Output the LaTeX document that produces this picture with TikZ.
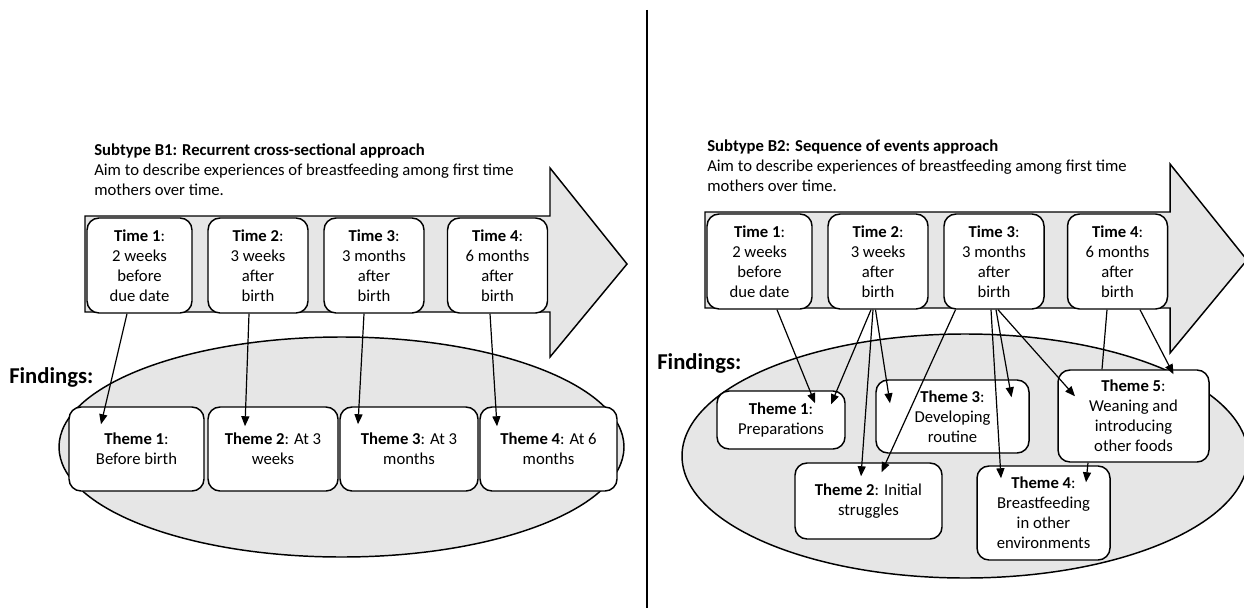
\documentclass[tikz,border=0pt]{standalone}
\usepackage{fontspec}
\setmainfont{Carlito}
\usetikzlibrary{arrows.meta,calc}

\tikzset{
  timebox/.style={draw, line width=1.1pt, rounded corners=9pt, fill=white, align=center, inner sep=0pt, minimum width=75pt, minimum height=71.25pt, font=\fontsize{12.5}{15}\selectfont},
  themebox/.style={draw, line width=1.1pt, rounded corners=9pt, fill=white, align=center, inner sep=0pt, font=\fontsize{12.5}{15}\selectfont},
  bigarrow/.style={draw, line width=1.1pt, fill={rgb, 255:red, 230; green, 230; blue, 230}},
  conn/.style={line width=0.9pt, -{Triangle[length=7.5pt,width=6pt]}},
  headtext/.style={anchor=north west, inner sep=0pt, align=left, font=\fontsize{12.5}{15}\selectfont},
  findtext/.style={anchor=west, inner sep=0pt, font=\fontsize{17}{20}\selectfont\bfseries},
}

\begin{document}
\begin{tikzpicture}[x=0.75pt,y=0.75pt,yscale=-1,xscale=1]
\useasboundingbox (0,0) rectangle (1244,613);

%Straight Lines: divider
\draw [line width=1.2pt] (647,10) -- (647,608);

%Shape: Right Arrow (B1)
\draw [bigarrow] (85,216) -- (550,216) -- (550,168) -- (627,264) -- (550,357) -- (550,312) -- (85,312) -- cycle;
%Shape: Right Arrow (B2)
\draw [bigarrow] (705,212) -- (1170,212) -- (1170,164) -- (1247,260) -- (1170,353) -- (1170,308) -- (705,308) -- cycle;

%Shape: Ellipse (B1)
\draw [bigarrow] (341.5,447) ellipse [x radius=282.5, y radius=110];
%Shape: Ellipse (B2)
\draw [bigarrow] (965,456) ellipse [x radius=283, y radius=122];

% Text Node
\draw (94,143.5) node [headtext] {\textbf{Subtype B1: Recurrent cross-sectional approach}\\Aim to describe experiences of breastfeeding among first time\\mothers over time.};
% Text Node
\draw (707,139.5) node [headtext] {\textbf{Subtype B2: Sequence of events approach}\\Aim to describe experiences of breastfeeding among first time\\mothers over time.};
% Text Node
\draw (9,377) node [findtext] {Findings:};
% Text Node
\draw (657,363) node [findtext] {Findings:};

%Rounded Rect: time points (B1)
\node [timebox, minimum width=78.75pt] (ltime1) at (139.5,265.5) {\textbf{Time 1}:\\2 weeks\\before\\due date};
\node [timebox] (ltime2) at (258,265.5) {\textbf{Time 2}:\\3 weeks\\after\\birth};
\node [timebox] (ltime3) at (374,265.5) {\textbf{Time 3}:\\3 months\\after\\birth};
\node [timebox] (ltime4) at (497.5,265.5) {\textbf{Time 4}:\\6 months\\after\\birth};

%Rounded Rect: themes (B1)
\node [themebox, minimum width=101.25pt, minimum height=63pt] (ltheme1) at (136.5,449) {\textbf{Theme 1}:\\Before birth};
\node [themebox, minimum width=97.5pt, minimum height=63pt] (ltheme2) at (273,449) {\textbf{Theme 2}: At 3\\weeks};
\node [themebox, minimum width=103.5pt, minimum height=63pt] (ltheme3) at (409,449) {\textbf{Theme 3}: At 3\\months};
\node [themebox, minimum width=102.75pt, minimum height=63pt] (ltheme4) at (548.5,449) {\textbf{Theme 4}: At 6\\months};

%Rounded Rect: time points (B2)
\node [timebox, minimum width=78.75pt] (rtime1) at (759.5,261.5) {\textbf{Time 1}:\\2 weeks\\before\\due date};
\node [timebox] (rtime2) at (878,261.5) {\textbf{Time 2}:\\3 weeks\\after\\birth};
\node [timebox] (rtime3) at (994,261.5) {\textbf{Time 3}:\\3 months\\after\\birth};
\node [timebox] (rtime4) at (1117.5,261.5) {\textbf{Time 4}:\\6 months\\after\\birth};

%Rounded Rect: themes (B2)
\node [themebox, minimum width=96pt, minimum height=43.5pt] (rtheme1) at (781,420) {\textbf{Theme 1}:\\Preparations};
\node [themebox, minimum width=110.25pt, minimum height=57pt] (rtheme2) at (868.5,501) {\textbf{Theme 2}: Initial\\struggles};
\node [themebox, minimum width=114.75pt, minimum height=54.75pt] (rtheme3) at (952.5,416.5) {\textbf{Theme 3}:\\Developing\\routine};
\node [themebox, minimum width=99.75pt, minimum height=70.5pt] (rtheme4) at (1043.5,513) {\textbf{Theme 4}:\\Breastfeeding\\in other\\environments};
\node [themebox, minimum width=113.25pt, minimum height=69pt] (rtheme5) at (1133.5,416) {\textbf{Theme 5}:\\Weaning and\\introducing\\other foods};

%Straight Lines: B1
\draw [conn] ($(ltime1.south)+(-12.5,0)$) -- ($(ltheme1.north)+(-35.5,18)$);
\draw [conn] ($(ltime2.south)+(-9,0)$) -- ($(ltheme2.north)+(-28,20)$);
\draw [conn] ($(ltime3.south)+(-10,0)$) -- ($(ltheme3.north)+(-51,18)$);
\draw [conn] ($(ltime4.south)+(-7.5,0)$) -- ($(ltheme4.north)+(-51.5,20)$);

%Straight Lines: B2
\draw [conn] ($(rtime1.south)+(17.5,0)$) -- ($(rtheme1.north)+(34,13)$);
\draw [conn] ($(rtime2.south)+(-7,0)$) -- ($(rtheme1.north)+(50,14)$);
\draw [conn] ($(rtime2.south)+(-5,0)$) -- ($(rtheme2.north)+(-7.5,14)$);
\draw [conn] ($(rtime2.south)+(-2.5,0)$) -- ($(rtheme3.north)+(-62.5,24)$);
\draw [conn] ($(rtime3.south)+(-38.5,0)$) -- ($(rtheme2.north)+(13,10)$);
\draw [conn] ($(rtime3.south)+(-3,0)$) -- ($(rtheme4.north)+(-42.5,13)$);
\draw [conn] ($(rtime3.south)+(2,0)$) -- ($(rtheme3.north)+(59,18)$);
\draw [conn] ($(rtime3.south)+(4,0)$) -- ($(rtheme5.north)+(-58.5,27)$);
\draw [line width=0.9pt] ($(rtime4.south)+(-10.5,0)$) -- ($(rtheme5.north)+(-31.5,0)$);
\draw [conn] ($(rtime4.south)+(22.5,0)$) -- ($(rtheme5.north)+(40,5)$);
\draw [conn] ($(rtheme5.south)+(-45.5,0)$) -- ($(rtheme4.north)+(42.5,17)$);

\end{tikzpicture}
\end{document}
